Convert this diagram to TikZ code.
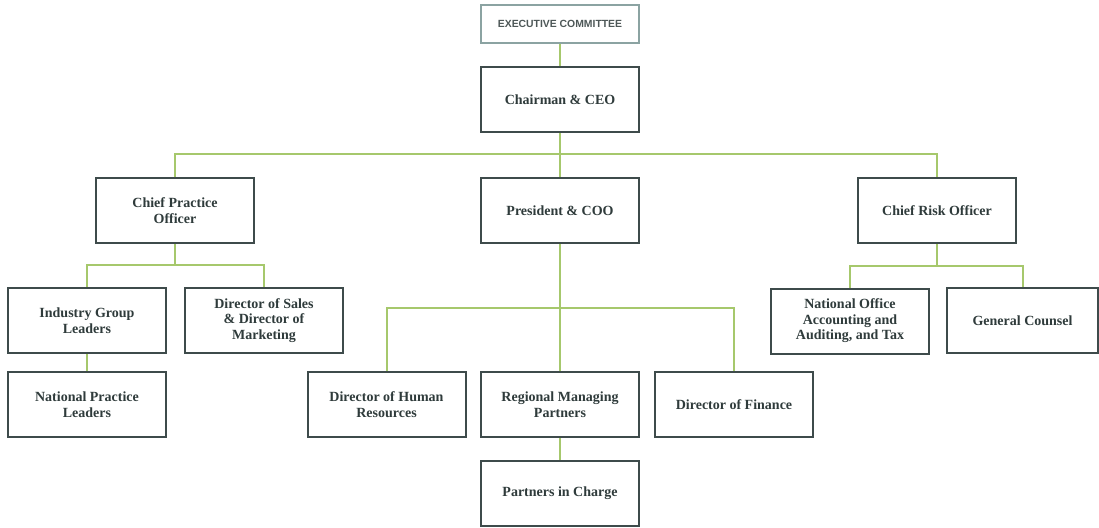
\documentclass[tikz,border=0pt]{standalone}
\usepackage{fontspec}
\setmainfont{Liberation Serif}
\newfontfamily\execfont{Liberation Sans}
\usetikzlibrary{positioning}
\definecolor{boxline}{HTML}{3E4B4B}
\definecolor{boxtext}{HTML}{2F3B3B}
\definecolor{execline}{HTML}{8BA3A2}
\definecolor{twig}{HTML}{A6C86C}

\begin{document}
\begin{tikzpicture}[x=1pt,y=-1pt]
    \tikzstyle{post}=[rectangle, draw=boxline, line width=2pt, fill=white, text=boxtext, minimum width=158pt, minimum height=65pt, align=center, font=\fontsize{14}{15.5}\selectfont\bfseries]
    \tikzstyle{exec}=[rectangle, draw=execline, line width=2pt, fill=white, text=boxtext!85, minimum width=158pt, minimum height=38pt, font=\execfont\fontsize{10.4}{12}\selectfont\bfseries]
    \tikzstyle{connect}=[draw=twig, line width=2pt]

      \useasboundingbox (0,0) rectangle (1099,527);

      \node[exec] (exec) at (560,24) {EXECUTIVE COMMITTEE};
      \node[post] (chair) at (560,99.5) {Chairman \& CEO};
      \node[post] (pres) at (560,210.5) {President \& COO};
      \node[post] (cpo) at (175,210.5) {Chief Practice\\Officer};
      \node[post] (cro) at (937,210.5) {Chief Risk Officer};
      \node[post] (igl) at (87,320.5) {Industry Group\\Leaders};
      \node[post] (sales) at (264,320.5) {Director of Sales\\\& Director of\\Marketing};
      \node[post] (npl) at (87,404.5) {National Practice\\Leaders};
      \node[post] (hr) at (386.5,404.5) {Director of Human\\Resources};
      \node[post] (rmp) at (560,404.5) {Regional Managing\\Partners};
      \node[post] (fin) at (734,404.5) {Director of Finance};
      \node[post] (pic) at (560,493) {Partners in Charge};
      \node[post] (noat) at (850,321) {National Office\\Accounting and\\Auditing, and Tax};
      \node[post, minimum width=151pt] (gc) at (1022.5,320.5) {General Counsel};

      % reporting lines
      \path[connect] (exec) -- (chair);
      \path[connect] (chair) -- (pres);
      \path[connect] (cpo.north) -- ++(0,-23) -| (cro.north);
      \path[connect] (igl.north) -- ++(0,-22) -| (sales.north);
      \path[connect] (cpo) -- ++(0,55.5);
      \path[connect] (igl) -- (npl);
      \path[connect] (hr.north) -- ++(0,-63) -| (fin.north);
      \path[connect] (pres) -- (rmp);
      \path[connect] (noat.north) -- ++(0,-22) -| (gc.north);
      \path[connect] (cro) -- ++(0,55.5);
      \path[connect] (rmp) -- (pic);
    \end{tikzpicture}
\end{document}
